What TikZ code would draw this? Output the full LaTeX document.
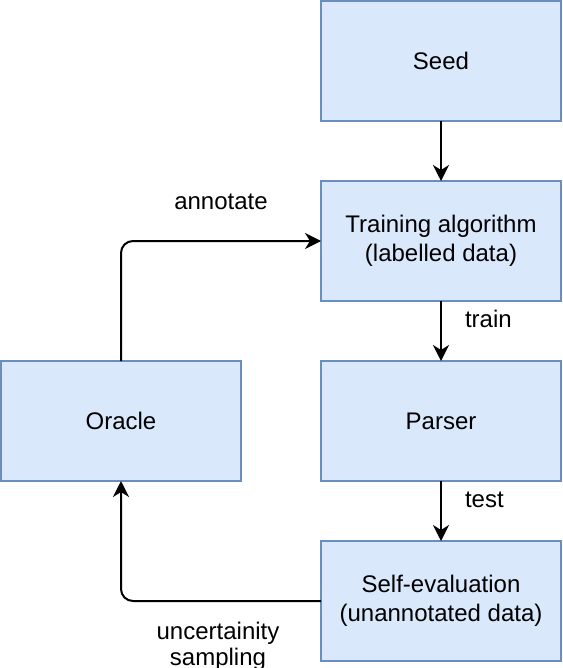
\documentclass[tikz,border=0pt]{standalone}
\usepackage{fontspec}
\setmainfont{Liberation Sans}
\usepackage{tikz}
\usetikzlibrary{positioning}
\usetikzlibrary{arrows.meta}
\definecolor{boxfill}{HTML}{DAE8FC}
\definecolor{boxline}{HTML}{6C8EBF}
\tikzstyle{block}=[rectangle,draw=boxline,fill=boxfill,line width=1pt,outer sep=0pt,inner sep=0pt,minimum width=120pt,minimum height=60pt,align=center,font=\fontsize{12}{14.4}\selectfont]
\tikzstyle{edge} = [draw,line width=1pt,rounded corners=6pt,-{Stealth[length=8pt,width=8pt,inset=2.5pt]}]
\tikzstyle{elabel} = [inner sep=0pt,align=center,font=\fontsize{12}{13}\selectfont]

\begin{document}
\begin{tikzpicture}[x=0.5pt,y=-0.5pt]

    \useasboundingbox (0,0) rectangle (562,668);

    \node[block] (seed) at (441,61) {Seed};
    \node[block, below=30pt of seed] (training) {Training algorithm\\(labelled data)};
    \node[block, below=30pt of training] (parser) {Parser};
    \node[block, below=30pt of parser] (selfeval) {Self-evaluation\\(unannotated data)};
    \node[block] (oracle) at (121,421) {Oracle};

    \foreach \source/\dest/\weight in {seed/training/, training/parser/train, parser/selfeval/test}
        \path[edge] (\source) -- node[elabel, anchor=base west, xshift=11.5pt, yshift=2pt] {\weight} (\dest);

    % loop back through the oracle
    \path[edge] (oracle.north) |- node[elabel, pos=0.75, anchor=base, yshift=15.5pt] {annotate} (training.west);
    \path[edge] (selfeval.west) -| node[elabel, pos=0.25, anchor=north, xshift=-1.5pt, yshift=-10pt] {uncertainity\\sampling} (oracle.south);

\end{tikzpicture}
\end{document}
